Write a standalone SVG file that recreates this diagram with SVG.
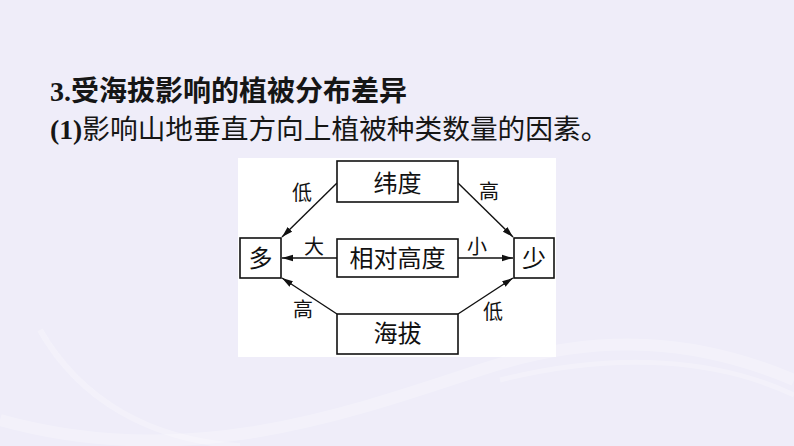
<svg xmlns="http://www.w3.org/2000/svg" width="794" height="446" viewBox="0 0 794 446">
  <defs>
    <style>
      .bg { fill: #efedf9; }
      .panel { fill: #ffffff; }
      .box { fill: #ffffff; stroke: #111111; stroke-width: 1.6; }
      .node { font-family: "Noto Sans CJK SC", "Noto Sans", sans-serif; font-size: 24px; fill: #111111; text-anchor: middle; }
      .lbl { font-family: "Noto Sans CJK SC", "Noto Sans", sans-serif; font-size: 20px; fill: #111111; text-anchor: middle; }
      .edge { stroke: #111111; stroke-width: 1.4; fill: none; marker-end: url(#arrow); }
      .title { font-family: "Liberation Serif", "Noto Sans CJK SC", serif; font-weight: bold; font-size: 28px; fill: #161616; }
      .title .cjk { font-family: "Noto Sans CJK SC", sans-serif; }
      .sub { font-family: "Liberation Serif", "Noto Sans CJK SC", serif; font-size: 27.7px; fill: #161616; }
      .sub .cjk { font-family: "Noto Sans CJK SC", sans-serif; font-weight: normal; }
      .wave { fill: none; stroke: #ffffff; stroke-opacity: 0.25; }
    </style>
    <marker id="arrow" markerUnits="userSpaceOnUse" markerWidth="12" markerHeight="8" refX="11" refY="4" orient="auto">
      <path d="M0,0.8 L11,4 L0,7.2 Z" fill="#111111"/>
    </marker>
  </defs>

  <rect class="bg" x="0" y="0" width="794" height="446"/>
  <path class="wave" stroke-width="12" d="M0,420 C180,470 330,420 480,370 C600,330 700,340 794,380"/>
  <path class="wave" stroke-width="6" d="M40,330 C80,400 150,440 240,446"/>
  <path class="wave" stroke-width="5" d="M500,380 C620,350 720,360 794,395"/>

  <text class="title" x="50" y="101">3.<tspan class="cjk">受海拔影响的植被分布差异</tspan></text>
  <text class="sub" x="50" y="139"><tspan font-weight="bold">(1)</tspan><tspan class="cjk">影响山地垂直方向上植被种类数量的因素。</tspan></text>

  <rect class="panel" x="238" y="158" width="318" height="199"/>

  <g id="connectors">
    <line class="edge" x1="337" y1="183" x2="282" y2="237"/>
    <line class="edge" x1="458" y1="183" x2="513" y2="237"/>
    <line class="edge" x1="337" y1="258" x2="282" y2="258"/>
    <line class="edge" x1="458" y1="258" x2="513" y2="258"/>
    <line class="edge" x1="337" y1="314" x2="282" y2="278"/>
    <line class="edge" x1="458" y1="314" x2="513" y2="278"/>
    <text class="lbl" x="302" y="200">低</text>
    <text class="lbl" x="489" y="199">高</text>
    <text class="lbl" x="314" y="254">大</text>
    <text class="lbl" x="477" y="254">小</text>
    <text class="lbl" x="303" y="317">高</text>
    <text class="lbl" x="493" y="319">低</text>
  </g>

  <g id="node-weidu">
    <rect class="box" x="337" y="161" width="121" height="41"/>
    <text class="node" x="397.5" y="192">纬度</text>
  </g>
  <g id="node-xiangdui">
    <rect class="box" x="337" y="239" width="121" height="38"/>
    <text class="node" x="397.5" y="267">相对高度</text>
  </g>
  <g id="node-haiba">
    <rect class="box" x="337" y="314" width="121" height="40"/>
    <text class="node" x="397.5" y="342">海拔</text>
  </g>
  <g id="node-duo">
    <rect class="box" x="240" y="238" width="41" height="40"/>
    <text class="node" x="260.5" y="267" font-size="23">多</text>
  </g>
  <g id="node-shao">
    <rect class="box" x="514" y="238" width="40" height="40"/>
    <text class="node" x="534" y="267" font-size="23">少</text>
  </g>
</svg>
